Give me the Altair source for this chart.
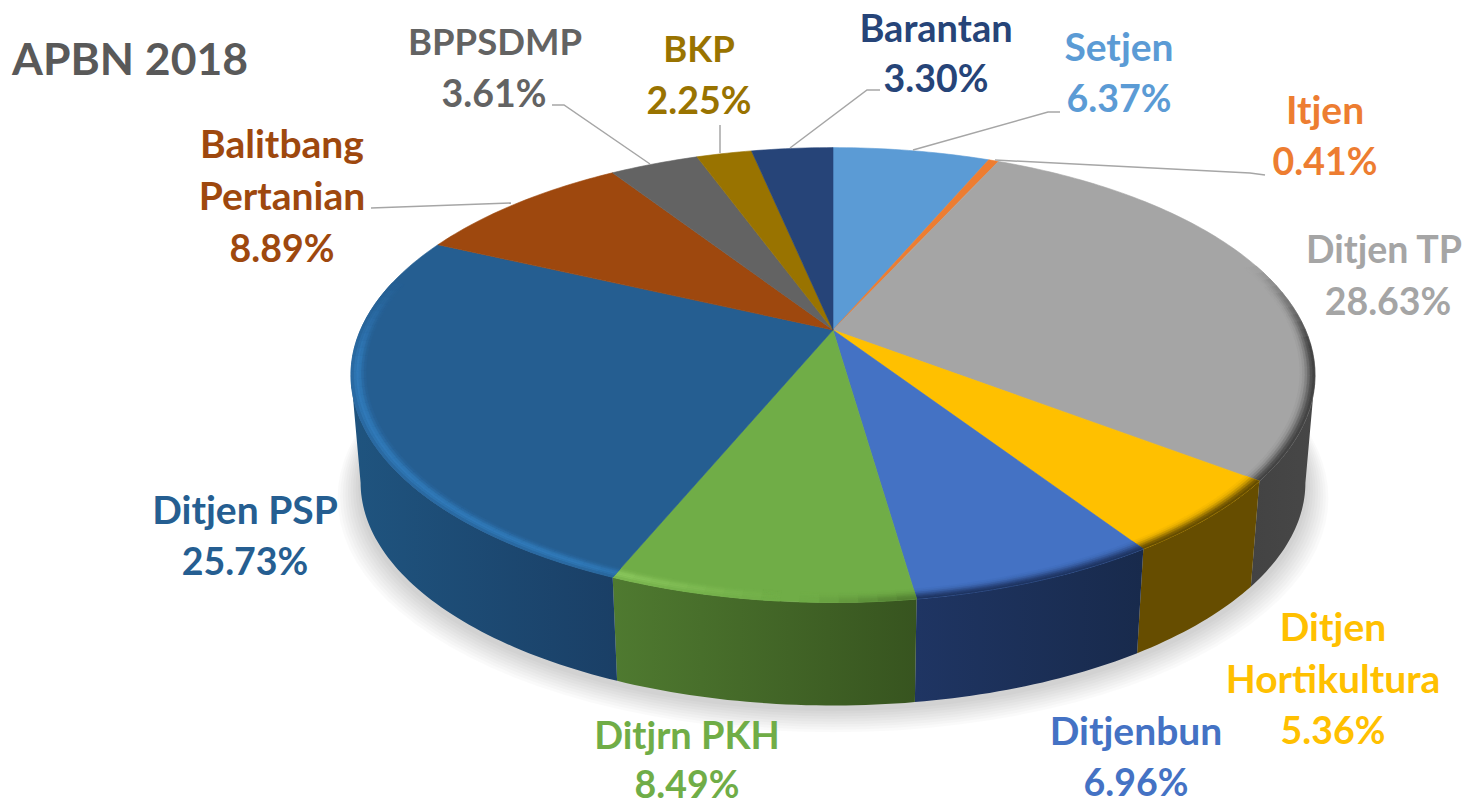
import math
import altair as alt

names = ["Setjen", "Itjen", "Ditjen TP", "Ditjen Hortikultura", "Ditjenbun", "Ditjrn PKH",
         "Ditjen PSP", "Balitbang Pertanian", "BPPSDMP", "BKP", "Barantan"]
shares = [6.37, 0.41, 28.63, 5.36, 6.96, 8.49, 25.73, 8.89, 3.61, 2.25, 3.30]
top_colors = ["#5b9bd5", "#ed7d31", "#a5a5a5", "#ffc000", "#4472c4", "#70ad47",
              "#255e91", "#9e480e", "#636363", "#997300", "#264478"]
wall_start = ["#37658f", "#8e4b1d", "#474747", "#664d00", "#182a4c", "#37541f",
              "#1a3f66", "#5f2b08", "#3b3b3b", "#5b4500", "#162848"]
wall_end = ["#37658f", "#8e4b1d", "#434343", "#664d00", "#1f3563", "#4f7a30",
            "#1f547f", "#5f2b08", "#3b3b3b", "#5b4500", "#162848"]
rim_light = ["#7db2e2", "#f29a5c", "#bdbdbd", "#ffd34d", "#6a90d6", "#90cc62",
             "#3079b8", "#b8622a", "#808080", "#b38a10", "#3a5f9c"]

WORD, DIGIT, CAPS = 39, 37.5, 36.5
label_rows = [
    ("BPPSDMP", 495, 42, 8, CAPS), ("3.61%", 494, 94, 8, DIGIT),
    ("BKP", 699, 49, 9, CAPS), ("2.25%", 699, 101, 9, DIGIT),
    ("Barantan", 936, 29, 10, 38), ("3.30%", 936, 79, 10, DIGIT),
    ("Setjen", 1119, 47, 0, WORD), ("6.37%", 1119, 99, 0, DIGIT),
    ("Itjen", 1325, 110, 1, WORD), ("0.41%", 1325, 162, 1, DIGIT),
    ("Ditjen TP", 1384, 250, 2, 37.5), ("28.63%", 1388, 302, 2, DIGIT),
    ("Ditjen", 1333, 627, 3, WORD), ("Hortikultura", 1333, 679, 3, WORD), ("5.36%", 1333, 731, 3, DIGIT),
    ("Ditjenbun", 1136, 731, 4, WORD), ("6.96%", 1136, 783, 4, DIGIT),
    ("Ditjrn PKH", 687, 736, 5, 38), ("8.49%", 687, 785, 5, DIGIT),
    ("Ditjen PSP", 245, 510, 6, WORD), ("25.73%", 245, 562, 6, DIGIT),
    ("Balitbang", 282, 144, 7, WORD), ("Pertanian", 282, 196, 7, WORD), ("8.89%", 282, 249, 7, DIGIT),
]
leaders = [
    [(1060, 112), (1048, 112), (913, 150)],
    [(1265, 175), (1250, 173), (995, 160)],
    [(880, 90), (867, 90), (790, 148)],
    [(720, 125), (720, 153)],
    [(552, 105), (564, 105), (650, 164)],
    [(371, 208), (511, 203)],
]

CX, CY, B, A, K = 833.0, 330.0, 472.5, 218.5, 0.198
BASE_S, BASE_D = 0.98, 108.5
EDGE_R = math.degrees(math.acos(-K))
EDGE_L = 360.0 - EDGE_R


def pt(deg, r=1.0, base=False, dy=0.0):
    t = math.radians(deg)
    u, v = r * math.sin(t), -r * math.cos(t)
    w = 1 - K * v
    x, y = B * u / w, A * v / w
    if base:
        return [CX + BASE_S * x, CY + BASE_D + dy + BASE_S * y]
    return [CX + x, CY + y]


def rgb(h):
    return [int(h[i:i + 2], 16) for i in (1, 3, 5)]


def mix(a, b, f):
    f = max(0.0, min(1.0, f))
    ca, cb = rgb(a), rgb(b)
    return "#%02x%02x%02x" % tuple(round(p + (q - p) * f) for p, q in zip(ca, cb))


def clamp(x):
    return max(0.0, min(1.0, x))


def feature(ring, fill):
    ring = ring + [ring[0]]
    return {"type": "Feature", "properties": {"fill": fill},
            "geometry": {"type": "Polygon", "coordinates": [ring]}}


def steps(a, b, size):
    n = max(1, int(math.ceil((b - a) / size)))
    return [a + (b - a) * i / n for i in range(n + 1)]


bounds = [0.0]
for s in shares:
    bounds.append(bounds[-1] + s * 3.6)
bounds[-1] = 360.0

RADII = [0.970, 0.975, 0.980, 0.985, 0.990, 0.995, 1.0]
LIGHT_W = [0.15, 0.45, 0.85, 1.0, 0.8, 0.45]
DARK_W = [0.05, 0.15, 0.35, 0.6, 0.85, 1.0]

proj = alt.Projection(type="identity", scale=1, translate=[-8, -8])
fill_enc = alt.Fill("properties.fill:N", scale=None, legend=None)
stroke_enc = alt.Stroke("properties.fill:N", scale=None, legend=None)

wall_layers, tops = [], []
for i in range(len(shares)):
    a0, a1 = bounds[i], bounds[i + 1]
    lo, hi = max(a0, EDGE_R), min(a1, EDGE_L)
    if hi > lo:
        arc = steps(lo, hi, 1)
        ring = [pt(d) for d in arc] + [pt(d, base=True) for d in reversed(arc)]
        grad = alt.Gradient(
            gradient="linear", x1=0, x2=1, y1=0, y2=0,
            stops=[alt.GradientStop(color=wall_end[i], offset=0),
                   alt.GradientStop(color=wall_start[i], offset=1)],
        )
        wall_layers.append(alt.Chart(alt.Data(values=[feature(ring, wall_end[i])]))
                           .mark_geoshape(fill=grad, strokeWidth=0)
                           .encode(detail="properties.fill:N"))
    tops.append(feature([[CX, CY]] + [pt(d) for d in steps(a0, a1, 1)], top_colors[i]))
    lo, hi = max(a0, 70.0), min(a1, 285.0)
    if hi > lo:
        grid = steps(lo, hi, 2)
        for p, q in zip(grid[:-1], grid[1:]):
            m = (p + q) / 2
            light = clamp((m - 185) / 22) * clamp((284 - m) / 22)
            dark = clamp((183 - m) / 12) * clamp((m - 72) / 22)
            for ring_i in range(len(LIGHT_W)):
                ri, ro = RADII[ring_i], RADII[ring_i + 1]
                if light > 0:
                    fill = mix(top_colors[i], rim_light[i], LIGHT_W[ring_i] * light)
                elif dark > 0:
                    fill = mix(top_colors[i], wall_end[i], DARK_W[ring_i] * dark)
                else:
                    continue
                tops.append(feature([pt(p, ri), pt(q, ri), pt(q, ro), pt(p, ro)], fill))

shadow = []
for n in range(1, 10):
    e = n * 0.0052
    ring = [pt(d, 1 + e, base=True, dy=3 + n * 0.9) for d in steps(0, 360, 3)[:-1]]
    shadow.append(feature(ring, "#000000"))

leader_features = [{"type": "Feature", "properties": {"fill": "#a6a6a6"},
                    "geometry": {"type": "LineString", "coordinates": [list(p) for p in l]}}
                   for l in leaders]

shadow_layer = alt.Chart(alt.Data(values=shadow)).mark_geoshape(fillOpacity=0.02, strokeWidth=0).encode(fill=fill_enc)
top_layer = alt.Chart(alt.Data(values=tops)).mark_geoshape(strokeWidth=0.6).encode(fill=fill_enc, stroke=stroke_enc)
line_layer = alt.Chart(alt.Data(values=leader_features)).mark_geoshape(filled=False, strokeWidth=1.5, stroke="#a6a6a6")

label_data = [{"t": t, "lon": x, "lat": y, "c": top_colors[i], "fs": fs} for t, x, y, i, fs in label_rows]
text_layer = alt.Chart(alt.Data(values=label_data)).mark_text(
    font="Lato", fontWeight="bold", align="center", baseline="middle", dy=2
).encode(longitude="lon:Q", latitude="lat:Q", text="t:N",
         color=alt.Color("c:N", scale=None, legend=None),
         size=alt.Size("fs:Q", scale=None, legend=None))

title_layer = alt.Chart(alt.Data(values=[{"t": "APBN 2018", "lon": 12, "lat": 60}])).mark_text(
    font="Lato", fontWeight="bold", fontSize=44.5, align="left", baseline="middle", color="#595959", dy=2
).encode(longitude="lon:Q", latitude="lat:Q", text="t:N")

chart = alt.layer(shadow_layer, *wall_layers, top_layer, line_layer, text_layer, title_layer).properties(
    width=1454, height=796, padding=0, background="#ffffff", projection=proj
).configure_view(stroke=None)

chart.save("out.html", embed_options={"renderer": "svg", "actions": False})
